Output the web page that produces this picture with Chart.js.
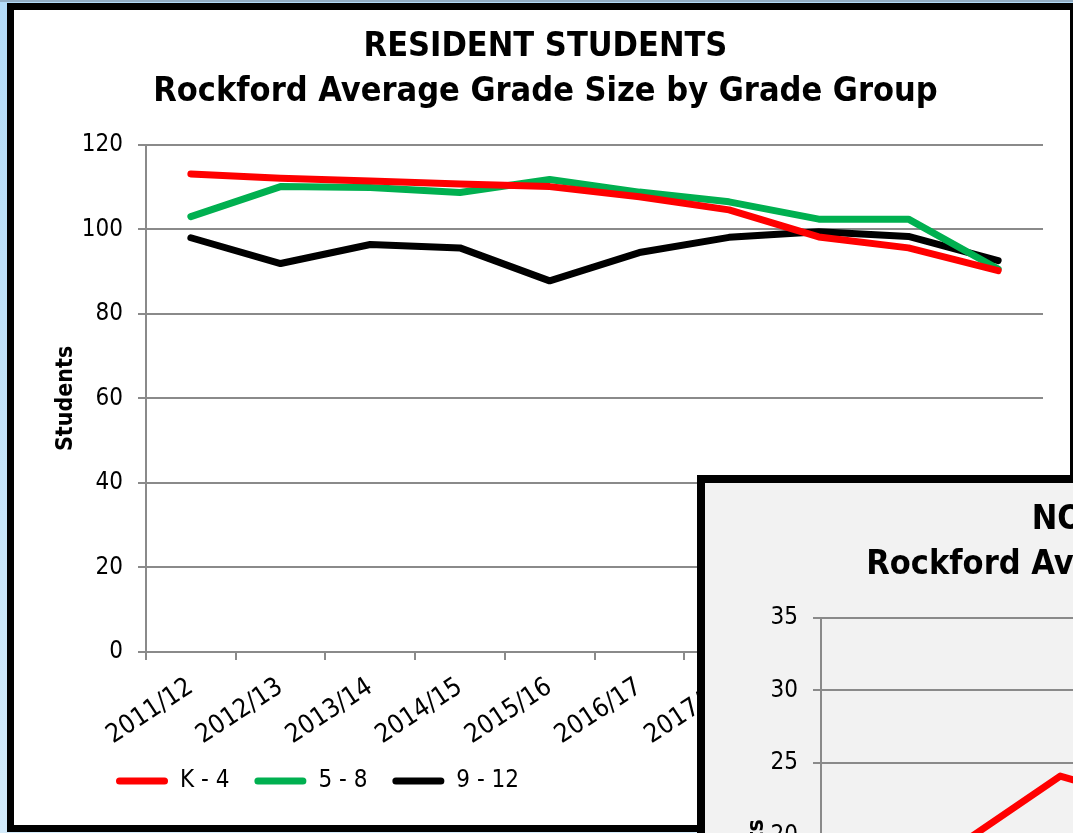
<!DOCTYPE html>
<html><head><meta charset="utf-8">
<script src="https://cdn.jsdelivr.net/npm/chart.js@4.4.1/dist/chart.umd.min.js"></script>
<style>
html,body{margin:0;padding:0;width:1073px;height:833px;overflow:hidden;}
body{background:linear-gradient(#b3dbf8,#d3ebfb);position:relative;}
#topbar{position:absolute;left:0;top:0;width:1073px;height:2px;background:#93aec4;}
#box1{position:absolute;left:7px;top:3px;width:1056px;height:815px;border:7px solid #000;background:#fff;}
#box2{position:absolute;left:697px;top:475px;width:1100px;height:816px;border:8px solid #000;background:#f2f2f2;}
canvas{display:block;}
</style></head><body>
<div id="topbar"></div>
<div id="box1"><canvas id="c1" width="1056" height="815"></canvas></div>
<div id="box2"><canvas id="c2" width="1100" height="816"></canvas></div>
<script>
// ---- data ----
const categories = ['2011/12','2012/13','2013/14','2014/15','2015/16','2016/17','2017/18','2018/19','2019/20','2020/21'];
const seriesNames = ['K - 4','5 - 8','9 - 12'];
const seriesColors = ['#ff0000','#00b050','#000000'];
const residentK4   = [113.1,112.1,111.4,110.7,110.1,107.7,104.6,98.2,95.6,90.2];
const resident58   = [103.0,110.1,109.9,108.7,111.8,108.8,106.5,102.4,102.4,90.6];
const resident912  = [98.0,91.9,96.4,95.6,87.8,94.5,98.1,99.4,98.3,92.6];
const residentYTicks = [0,20,40,60,80,100,120];
const nonResidentK4 = [null,19.6,24.1,22.2,null,null,null,null,null,null];
const nonResidentYTicks = [0,5,10,15,20,25,30,35];
const title1 = ['RESIDENT STUDENTS','Rockford Average Grade Size by Grade Group'];
const title2 = ['NON-RESIDENT STUDENTS','Rockford Average Grade Size by Grade Group'];
const yTitle = 'Students';

const FONT = "'DejaVu Sans Condensed', 'Noto Sans', sans-serif";
const GRID = '#8a8a8a';

const legendShift = {
  id:'legendShift',
  afterLayout(chart, args, opts){
    const lg = chart.legend; if(!lg) return;
    const dx = opts.x - (lg.left + lg.options.labels.padding);
    lg.left += dx; lg.right += dx;
  }
};

function makeOptions(titleLines, yTicks, yWidth){
  return {
    responsive:false, animation:false, devicePixelRatio:1,
    layout:{padding:{left:34,right:27,top:0,bottom:22}},
    plugins:{
      legendShift:{x:102},
      title:{display:true,text:titleLines,color:'#000',
        font:{family:FONT,size:34,weight:'bold',lineHeight:1.32},padding:{top:15,bottom:30}},
      legend:{position:'bottom',align:'start',
        labels:{color:'#000',font:{family:FONT,size:24},boxWidth:52,boxHeight:7,padding:25,
          useBorderRadius:true,borderRadius:3.5,
          generateLabels(chart){
            const items = Chart.defaults.plugins.legend.labels.generateLabels(chart);
            items.forEach(it=>{it.fillStyle=it.strokeStyle;it.lineWidth=0;});
            return items;
          }}},
      tooltip:{enabled:false}
    },
    scales:{
      x:{offset:true,
        afterFit(scale){scale.paddingLeft=0;scale.paddingRight=0;scale.height=92;},
        grid:{display:true,drawOnChartArea:false,offset:true,tickLength:8,color:GRID,lineWidth:2},
        border:{display:true,color:GRID,width:2},
        ticks:{minRotation:33,maxRotation:33,autoSkip:false,color:'#000',font:{family:FONT,size:26},padding:12}},
      y:{min:yTicks[0],max:yTicks[yTicks.length-1],
        afterFit(scale){scale.width=yWidth;},
        ticks:{stepSize:yTicks[1]-yTicks[0],color:'#000',font:{family:FONT,size:24},padding:15},
        grid:{color:GRID,lineWidth:2,tickLength:8},
        border:{color:GRID,width:2},
        title:{display:true,text:yTitle,color:'#000',font:{family:FONT,size:23,weight:'bold'},padding:{top:4,bottom:6}}}
    },
    elements:{line:{borderWidth:7,tension:0,borderCapStyle:'round',borderJoinStyle:'round'},point:{radius:0}}
  };
}

function ds(label,data,color){
  return {label,data,borderColor:color,backgroundColor:color,fill:false,spanGaps:false};
}

new Chart(document.getElementById('c1'),{
  type:'line',
  data:{labels:categories,datasets:[
    ds(seriesNames[0],residentK4,seriesColors[0]),
    ds(seriesNames[1],resident58,seriesColors[1]),
    ds(seriesNames[2],resident912,seriesColors[2])]},
  options:makeOptions(title1,residentYTicks,98),
  plugins:[legendShift]
});
new Chart(document.getElementById('c2'),{
  type:'line',
  data:{labels:categories,datasets:[ds(seriesNames[0],nonResidentK4,seriesColors[0])]},
  options:makeOptions(title2,nonResidentYTicks,82),
  plugins:[legendShift]
});
</script>
</body></html>
